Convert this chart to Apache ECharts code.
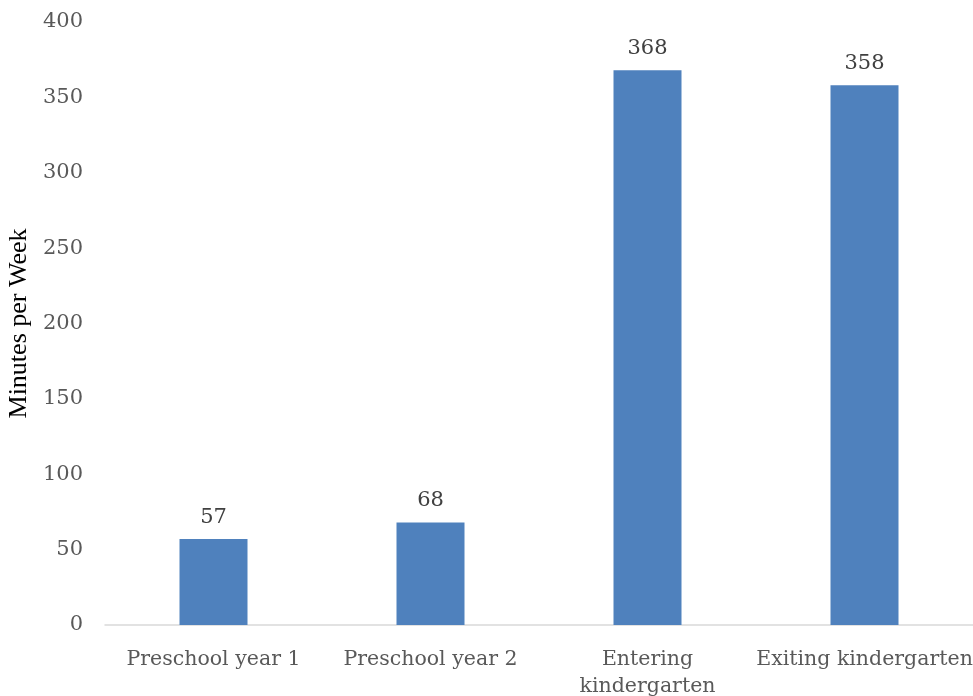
<!DOCTYPE html>
<html>
<head>
<meta charset="utf-8">
<script src="https://cdn.jsdelivr.net/npm/echarts@6/dist/echarts.min.js"></script>
<style>
  html, body { margin: 0; padding: 0; background: #fff; }
  #chart { width: 973px; height: 696px; }
</style>
</head>
<body>
<div id="chart"></div>
<script>
// minutes per week by grade
const categories = ['Preschool year 1', 'Preschool year 2', 'Entering kindergarten', 'Exiting kindergarten'];
const minutes = [57, 68, 368, 358];
const yTicks = { min: 0, max: 400, interval: 50 };

const labelBreaks = { 'Entering kindergarten': 'Entering\nkindergarten' };

const myChart = echarts.init(document.getElementById('chart'));
myChart.setOption({
    animation: false,
    grid: { left: 105, right: 0, top: 22, bottom: 71, containLabel: false, outerBoundsMode: 'none' },
    xAxis: {
        type: 'category',
        data: categories,
        axisLine: { lineStyle: { color: '#d9d9d9', width: 1.5 } },
        axisTick: { show: false },
        axisLabel: {
            interval: 0,
            margin: 21,
            color: '#595959',
            fontFamily: 'DejaVu Serif',
            fontSize: 20.5,
            lineHeight: 27,
            formatter: v => labelBreaks[v] || v
        }
    },
    yAxis: {
        type: 'value',
        min: yTicks.min,
        max: yTicks.max,
        interval: yTicks.interval,
        name: 'Minutes per Week',
        nameLocation: 'middle',
        nameGap: 65,
        nameTextStyle: { color: '#000', fontFamily: 'Liberation Serif', fontSize: 26 },
        axisLine: { show: false },
        axisTick: { show: false },
        splitLine: { show: false },
        axisLabel: {
            margin: 22,
            color: '#595959',
            fontFamily: 'DejaVu Serif',
            fontSize: 21
        }
    },
    series: [{
        type: 'bar',
        data: minutes,
        barWidth: 68,
        itemStyle: { color: '#4f81bd' },
        label: {
            show: true,
            position: 'top',
            distance: 11,
            color: '#404040',
            fontFamily: 'DejaVu Serif',
            fontSize: 21
        }
    }]
});
window.addEventListener('resize', () => myChart.resize());
</script>
</body>
</html>
